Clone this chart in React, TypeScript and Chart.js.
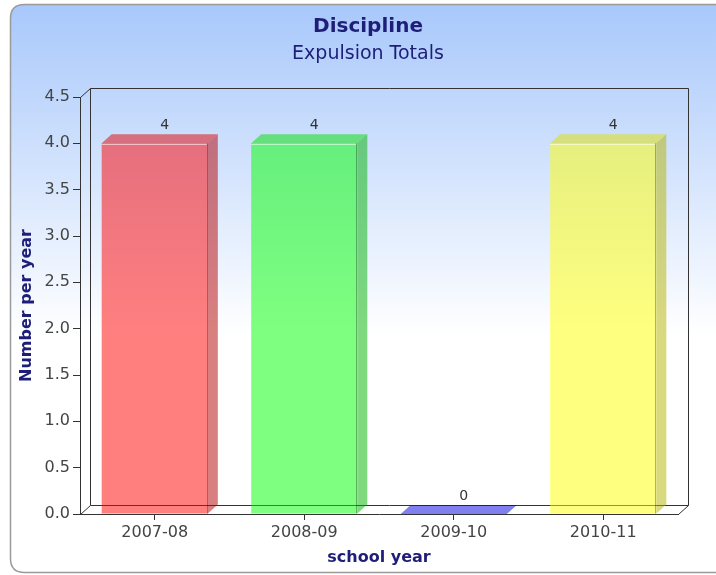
import React, { useEffect, useRef } from "react";
import { Chart, registerables } from "chart.js";

Chart.register(...registerables);

// ---- data ----
const categories: string[] = ["2007-08", "2008-09", "2009-10", "2010-11"];
const expulsions: number[] = [4, 4, 0, 4];
const barColors: number[][] = [
  [255, 0, 0],
  [0, 255, 0],
  [0, 0, 255],
  [255, 255, 0],
];
const yMin = 0;
const yMax = 4.5;
const yStep = 0.5;
const titleText = "Discipline";
const subtitleText = "Expulsion Totals";
const xTitleText = "school year";
const yTitleText = "Number per year";

// ---- style ----
const FONT = "'DejaVu Sans', sans-serif";
const NAVY = "#1e1e78";
const DX = 10;
const DY = 9;
const ALPHA = 0.5;

const rgba = (c: number[], f: number, a: number) =>
  `rgba(${Math.round(c[0] * f)},${Math.round(c[1] * f)},${Math.round(c[2] * f)},${a})`;

const threeD = {
  id: "threeD",
  beforeDraw(chart: any) {
    const ctx = chart.ctx as CanvasRenderingContext2D;
    ctx.save();
    const x0 = 10.5, y0 = 4.5, x1 = 745, y1 = 572.5, r = 14;
    ctx.beginPath();
    ctx.moveTo(x0 + r, y0);
    ctx.lineTo(x1, y0);
    ctx.lineTo(x1, y1);
    ctx.lineTo(x0 + r, y1);
    ctx.quadraticCurveTo(x0, y1, x0, y1 - r);
    ctx.lineTo(x0, y0 + r);
    ctx.quadraticCurveTo(x0, y0, x0 + r, y0);
    ctx.closePath();
    const g = ctx.createLinearGradient(0, 5, 0, 335);
    g.addColorStop(0, "#a8c8fb");
    g.addColorStop(1, "#ffffff");
    ctx.fillStyle = g;
    ctx.fill();
    ctx.lineWidth = 1.5;
    ctx.strokeStyle = "#9a9a9a";
    ctx.stroke();
    ctx.restore();
  },
  beforeDatasetsDraw(chart: any) {
    const ctx = chart.ctx as CanvasRenderingContext2D;
    const { left, right, top, bottom } = chart.chartArea;
    ctx.save();
    ctx.strokeStyle = "#333333";
    ctx.lineWidth = 1;
    const L = Math.round(left) + 0.5;
    const R = Math.round(right) + 0.5;
    const T = Math.round(top) + 0.5;
    const B = Math.round(bottom) + 0.5;
    ctx.beginPath();
    // back wall
    ctx.rect(L + DX, T - DY, R - L, B - T);
    // connecting edges
    ctx.moveTo(L, T);
    ctx.lineTo(L + DX, T - DY);
    ctx.moveTo(L, B);
    ctx.lineTo(L + DX, B - DY);
    ctx.moveTo(R, B);
    ctx.lineTo(R + DX, B - DY);
    ctx.stroke();
    ctx.restore();
  },
  afterDatasetsDraw(chart: any) {
    const ctx = chart.ctx as CanvasRenderingContext2D;
    const meta = chart.getDatasetMeta(0);
    ctx.save();
    meta.data.forEach((bar: any, i: number) => {
      const { x, y, base, width } = bar.getProps(["x", "y", "base", "width"], true);
      const c = barColors[i % barColors.length];
      const xa = x - width / 2;
      const xb = x + width / 2;
      // top face
      ctx.beginPath();
      ctx.moveTo(xa, y);
      ctx.lineTo(xb, y);
      ctx.lineTo(xb + DX, y - DY);
      ctx.lineTo(xa + DX, y - DY);
      ctx.closePath();
      ctx.fillStyle = rgba(c, 0.88, ALPHA);
      ctx.fill();
      // side face
      if (base - y > 0.5) {
        ctx.beginPath();
        ctx.moveTo(xb, y);
        ctx.lineTo(xb + DX, y - DY);
        ctx.lineTo(xb + DX, base - DY);
        ctx.lineTo(xb, base);
        ctx.closePath();
        ctx.fillStyle = rgba(c, 0.7, ALPHA);
        ctx.fill();
        // edges
        ctx.lineWidth = 1;
        ctx.strokeStyle = "rgba(255,255,255,0.55)";
        ctx.beginPath();
        ctx.moveTo(xa, Math.round(y) + 1.5);
        ctx.lineTo(xb - 1, Math.round(y) + 1.5);
        ctx.stroke();
        ctx.strokeStyle = "rgba(0,0,0,0.3)";
        ctx.beginPath();
        ctx.moveTo(Math.round(xb) - 0.5, y);
        ctx.lineTo(Math.round(xb) - 0.5, base);
        ctx.stroke();
      }
      // value label
      ctx.fillStyle = "#333333";
      ctx.font = `14px ${FONT}`;
      ctx.textAlign = "center";
      ctx.textBaseline = "alphabetic";
      ctx.fillText(String(expulsions[i]), x + DX, y - DY - 5);
    });
    ctx.restore();
  },
};

export default function App() {
  const ref = useRef<HTMLCanvasElement | null>(null);
  useEffect(() => {
    if (!ref.current) return;
    Chart.defaults.font.family = FONT;
    const chart = new Chart(ref.current, {
      type: "bar",
      data: {
        labels: categories,
        datasets: [
          {
            label: "Expulsions",
            data: expulsions,
            backgroundColor: barColors.map((c) => rgba(c, 1, ALPHA)),
            borderWidth: 0,
            barPercentage: 0.71,
            categoryPercentage: 1,
          },
        ],
      },
      options: {
        responsive: false,
        animation: false,
        devicePixelRatio: 1,
        layout: { padding: { left: 40, right: 20, top: 0, bottom: 0 } },
        plugins: {
          legend: { display: false },
          tooltip: { enabled: false },
          title: {
            display: true,
            text: titleText,
            color: NAVY,
            font: { size: 20, weight: "bold", family: FONT },
            padding: { top: 15, bottom: 0 },
          },
          subtitle: {
            display: true,
            text: subtitleText,
            color: NAVY,
            font: { size: 19, weight: "normal", family: FONT },
            padding: { top: 3.6, bottom: 31.6 },
          },
        },
        scales: {
          x: {
            type: "category",
            offset: true,
            grid: {
              display: true,
              offset: false,
              drawOnChartArea: false,
              drawTicks: true,
              tickLength: 6,
              tickColor: "#333333",
            },
            border: { display: true, color: "#333333", width: 1 },
            ticks: {
              color: "#444444",
              font: { size: 16, family: FONT },
              padding: 3,
              maxRotation: 0,
            },
            title: {
              display: true,
              text: xTitleText,
              color: NAVY,
              font: { size: 16, weight: "bold", family: FONT },
              padding: { top: 0, bottom: 7.4 },
            },
            afterFit(scale: any) {
              scale.height = 61;
            },
          },
          y: {
            type: "linear",
            position: "left",
            min: yMin,
            max: yMax,
            grid: {
              display: true,
              drawOnChartArea: false,
              drawTicks: true,
              tickLength: 7,
              tickColor: "#333333",
            },
            border: { display: true, color: "#333333", width: 1 },
            ticks: {
              stepSize: yStep,
              color: "#444444",
              font: { size: 16, family: FONT },
              padding: 3,
              callback: (v: any) => Number(v).toFixed(1),
            },
            title: {
              display: true,
              text: yTitleText,
              color: NAVY,
              font: { size: 16, weight: "bold", family: FONT },
              padding: { top: -22.6, bottom: 0 },
            },
            afterFit(scale: any) {
              scale.width = 40;
            },
          },
          yRight: {
            type: "linear",
            position: "right",
            min: yMin,
            max: yMax,
            grid: { display: false },
            border: { display: false },
            ticks: { display: false },
            title: { display: false },
            afterFit(scale: any) {
              scale.width = 18;
            },
          },
        },
      },
      plugins: [threeD],
    } as any);
    return () => chart.destroy();
  }, []);
  return (
    <div style={{ position: "fixed", left: 0, top: 0, width: 716, height: 575, overflow: "hidden", background: "#ffffff" }}>
      <canvas ref={ref} width={716} height={575} style={{ display: "block", width: 716, height: 575 }} />
    </div>
  );
}
